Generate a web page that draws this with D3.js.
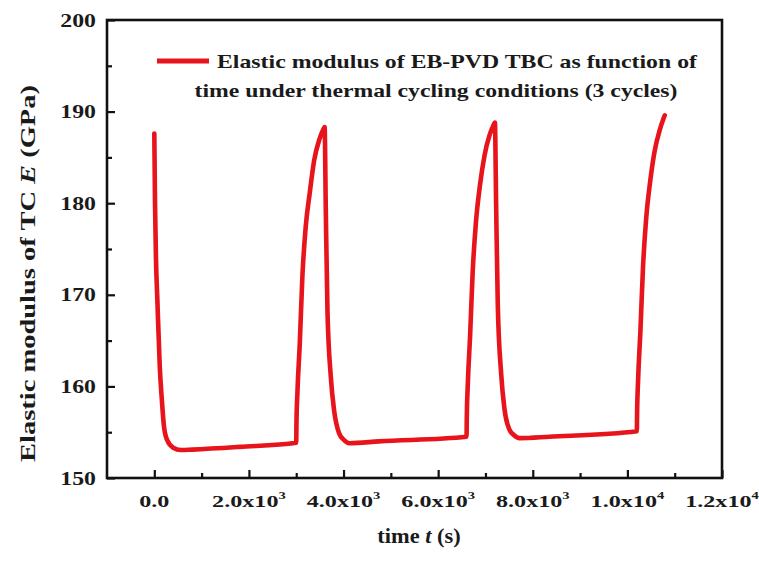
<!DOCTYPE html>
<html>
<head>
<meta charset="utf-8">
<script src="https://cdn.jsdelivr.net/npm/d3@7"></script>
<style>
  html, body { margin: 0; padding: 0; background: #fff; }
  svg { display: block; }
</style>
</head>
<body>
<script>
// ---- data ----
const time = [
  0, 15, 35, 65, 115, 160, 205, 275, 400, 560, 800, 1800, 3000,
  3005, 3025, 3075, 3130, 3200, 3285, 3380, 3485, 3560, 3600,
  3625, 3660, 3730, 3800, 3905, 4000, 4120, 4750, 6600,
  6605, 6625, 6675, 6730, 6800, 6885, 6980, 7085, 7160, 7200,
  7225, 7260, 7330, 7400, 7505, 7600, 7720, 8350, 10200,
  10205, 10225, 10275, 10330, 10400, 10485, 10580, 10685, 10760, 10790
];
const modulus = [
  187.6, 180.0, 174.0, 169.4, 162.2, 158.5, 155.6, 154.1, 153.3, 153.05, 153.1, 153.4, 153.85,
  156.0, 159.3, 164.7, 172.0, 177.4, 181.1, 184.7, 186.9, 187.9, 188.3,
  179.3, 168.3, 161.1, 157.4, 154.9, 154.2, 153.8, 154.0, 154.5,
  156.5, 160.0, 165.5, 172.5, 178.0, 182.0, 185.2, 187.4, 188.4, 188.8,
  180.0, 169.0, 161.5, 157.6, 155.3, 154.7, 154.35, 154.5, 155.1,
  157.0, 160.5, 166.0, 173.0, 178.5, 182.5, 185.8, 188.0, 189.2, 189.6
];
const yMajorTicks = [150, 160, 170, 180, 190, 200];
const yMinorTicks = [155, 165, 175, 185, 195];
const xMajorTicks = [0, 2000, 4000, 6000, 8000, 10000, 12000];
const xMinorTicks = [1000, 3000, 5000, 7000, 9000, 11000];
const xTickMantissa = ["0.0", "2.0x10", "4.0x10", "6.0x10", "8.0x10", "1.0x10", "1.2x10"];
const xTickExponent = ["", "3", "3", "3", "3", "4", "4"];
const legendLines = ["Elastic modulus of EB-PVD TBC as function of",
                     "time under thermal cycling conditions (3 cycles)"];

// ---- layout ----
const W = 759, H = 561;
const L = 107, R = 722, T = 20, B = 478;
const red = "#e8141b";
const FONT = "'Liberation Serif', Tinos, 'Times New Roman', 'Nimbus Roman', serif";

const svg = d3.select("body").append("svg").attr("width", W).attr("height", H)
  .attr("font-family", FONT).attr("font-weight", "bold").attr("fill", "#1a1a1a");

const x = d3.scaleLinear().domain([-1000, 12000]).range([L, R]);
const y = d3.scaleLinear().domain([150, 200]).range([B, T]);

// ticks (inward)
function tickAxis(gen, vals, size, tx) {
  const g = svg.append("g").attr("transform", tx)
    .call(gen.tickValues(vals).tickSize(size).tickFormat(""));
  g.select(".domain").remove();
  g.selectAll(".tick line").attr("stroke", "#111").attr("stroke-width", 2.2);
  return g;
}
tickAxis(d3.axisBottom(x), xMajorTicks, -8, `translate(0,${B})`);
tickAxis(d3.axisBottom(x), xMinorTicks, -5, `translate(0,${B})`);
tickAxis(d3.axisLeft(y), yMajorTicks, -8, `translate(${L},0)`);
tickAxis(d3.axisLeft(y), yMinorTicks, -5, `translate(${L},0)`);

// frame
svg.append("rect").attr("x", L).attr("y", T).attr("width", R - L).attr("height", B - T)
  .attr("fill", "none").attr("stroke", "#111").attr("stroke-width", 2.6);

// y tick labels
svg.append("g").selectAll("text").data(yMajorTicks).join("text")
  .attr("transform", d => `translate(96,${y(d) + 6.5}) scale(1.22,1)`)
  .attr("text-anchor", "end")
  .attr("font-family", FONT).attr("font-weight", "bold")
  .attr("font-size", 19.5)
  .text(d => d);

// x tick labels
const xl = svg.append("g").selectAll("text").data(xMajorTicks).join("text")
  .attr("transform", (d) => `translate(${x(d)},507) scale(1.38,1)`)
  .attr("text-anchor", "middle")
  .attr("font-family", FONT).attr("font-weight", "bold")
  .attr("font-size", 17.5);
xl.append("tspan").text((d, i) => xTickMantissa[i]);
xl.append("tspan").attr("dy", -8).attr("font-size", 10.5).text((d, i) => xTickExponent[i]);

// axis titles
const xt = svg.append("text").attr("transform", "translate(419,543) scale(1.12,1)")
  .attr("text-anchor", "middle").attr("font-size", 20)
  .attr("font-family", FONT).attr("font-weight", "bold");
xt.append("tspan").text("time ");
xt.append("tspan").attr("font-style", "italic").text("t");
xt.append("tspan").text(" (s)");

const yt = svg.append("text").attr("transform", "translate(35,273.5) rotate(-90)")
  .attr("text-anchor", "middle").attr("font-size", 20.5)
  .attr("font-family", FONT).attr("font-weight", "bold")
  .attr("textLength", 377).attr("lengthAdjust", "spacingAndGlyphs");
yt.append("tspan").text("Elastic modulus of TC ");
yt.append("tspan").attr("font-style", "italic").text("E");
yt.append("tspan").text(" (GPa)");

// curve
const line = d3.line().x(d => x(d[0])).y(d => y(d[1])).curve(d3.curveMonotoneX);
svg.append("path").datum(time.map((t, i) => [t, modulus[i]]))
  .attr("d", line).attr("fill", "none").attr("stroke", red)
  .attr("stroke-width", 4.6).attr("stroke-linejoin", "round").attr("stroke-linecap", "round");

// legend
svg.append("line").attr("x1", 157).attr("x2", 209).attr("y1", 61).attr("y2", 61)
  .attr("stroke", red).attr("stroke-width", 5);
svg.append("text").attr("x", 217).attr("y", 68.3).attr("font-size", 19.5)
  .attr("font-family", FONT).attr("font-weight", "bold")
  .attr("textLength", 480).attr("lengthAdjust", "spacingAndGlyphs").text(legendLines[0]);
svg.append("text").attr("x", 194.5).attr("y", 96.7).attr("font-size", 19.5)
  .attr("font-family", FONT).attr("font-weight", "bold")
  .attr("textLength", 483).attr("lengthAdjust", "spacingAndGlyphs").text(legendLines[1]);
</script>
</body>
</html>
